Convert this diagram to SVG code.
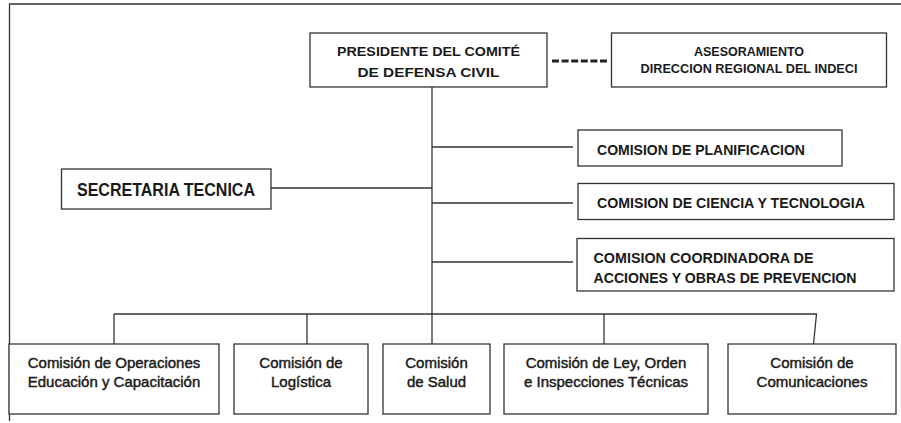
<svg xmlns="http://www.w3.org/2000/svg" width="901" height="423" viewBox="0 0 901 423">
<style>
.box{fill:#fff;stroke:#333;stroke-width:1.3}
.ln{fill:none;stroke:#333;stroke-width:1.3}
text{font-family:"Liberation Sans",Arial,sans-serif;fill:#1a1a1a}
.c{text-anchor:middle}
.u{font-weight:bold}
.b15{font-size:15px;stroke:#1a1a1a;stroke-width:0.45}
</style>
<rect width="901" height="423" fill="#fff"/>
<g id="frame" class="ln">
<polyline points="9.5,421 9.5,4 901,4"/>
</g>
<g id="connectors" class="ln">
<line x1="432" y1="87" x2="432" y2="344"/>
<line x1="271" y1="188" x2="432" y2="188"/>
<line x1="432" y1="147" x2="573" y2="147"/>
<line x1="432" y1="203" x2="573" y2="203"/>
<line x1="432" y1="262" x2="573" y2="262"/>
<line x1="114" y1="314" x2="817" y2="314"/>
<line x1="114" y1="314" x2="114" y2="344"/>
<line x1="307" y1="314" x2="307" y2="344"/>
<line x1="604" y1="314" x2="604" y2="344"/>
<line x1="816.5" y1="314" x2="813.5" y2="344"/>
<line x1="552" y1="61" x2="607" y2="61" stroke="#222" stroke-width="3" stroke-dasharray="7 2.6"/>
</g>
<g id="presidente">
<rect class="box" x="310" y="33" width="237" height="54"/>
<text class="c u" x="428.5" y="55.5" font-size="13.5" textLength="183" lengthAdjust="spacingAndGlyphs">PRESIDENTE DEL COMITÉ</text>
<text class="c u" x="428.5" y="77" font-size="13.5" textLength="142" lengthAdjust="spacingAndGlyphs">DE DEFENSA CIVIL</text>
</g>
<g id="asesoramiento">
<rect class="box" x="611.5" y="33" width="275" height="54"/>
<text class="c u" x="749" y="56" font-size="13" textLength="110" lengthAdjust="spacingAndGlyphs">ASESORAMIENTO</text>
<text class="c u" x="749" y="72.5" font-size="13" textLength="217" lengthAdjust="spacingAndGlyphs">DIRECCION REGIONAL DEL INDECI</text>
</g>
<g id="secretaria">
<rect class="box" x="61.5" y="169" width="209.5" height="40"/>
<text class="u" x="77" y="196" font-size="18.5" textLength="178" lengthAdjust="spacingAndGlyphs">SECRETARIA TECNICA</text>
</g>
<g id="planificacion">
<rect class="box" x="578" y="130" width="264" height="36"/>
<text class="u" x="597" y="154.5" font-size="15" textLength="208" lengthAdjust="spacingAndGlyphs">COMISION DE PLANIFICACION</text>
</g>
<g id="ciencia">
<rect class="box" x="578" y="183.5" width="316" height="36"/>
<text class="u" x="597" y="208" font-size="15" textLength="268" lengthAdjust="spacingAndGlyphs">COMISION DE CIENCIA Y TECNOLOGIA</text>
</g>
<g id="coordinadora">
<rect class="box" x="577" y="238.5" width="317" height="52.5"/>
<text class="u" x="593.5" y="262.5" font-size="15" textLength="220" lengthAdjust="spacingAndGlyphs">COMISION COORDINADORA DE</text>
<text class="u" x="593.5" y="283" font-size="15" textLength="263" lengthAdjust="spacingAndGlyphs">ACCIONES Y OBRAS DE PREVENCION</text>
</g>
<g id="operaciones">
<rect class="box" x="9" y="344" width="210" height="70"/>
<text class="c b15" x="114" y="368">Comisión de Operaciones</text>
<text class="c b15" x="114" y="387">Educación y Capacitación</text>
</g>
<g id="logistica">
<rect class="box" x="234" y="344" width="134" height="70"/>
<text class="c b15" x="301" y="368">Comisión de</text>
<text class="c b15" x="301" y="387">Logística</text>
</g>
<g id="salud">
<rect class="box" x="383" y="344" width="107" height="70"/>
<text class="c b15" x="436.5" y="368">Comisión</text>
<text class="c b15" x="436.5" y="387">de Salud</text>
</g>
<g id="ley">
<rect class="box" x="504" y="344" width="204" height="70"/>
<text class="c b15" x="606" y="368">Comisión de Ley, Orden</text>
<text class="c b15" x="606" y="387">e Inspecciones Técnicas</text>
</g>
<g id="comunicaciones">
<rect class="box" x="728" y="344" width="168" height="70"/>
<text class="c b15" x="812" y="368">Comisión de</text>
<text class="c b15" x="812" y="387">Comunicaciones</text>
</g>
</svg>
